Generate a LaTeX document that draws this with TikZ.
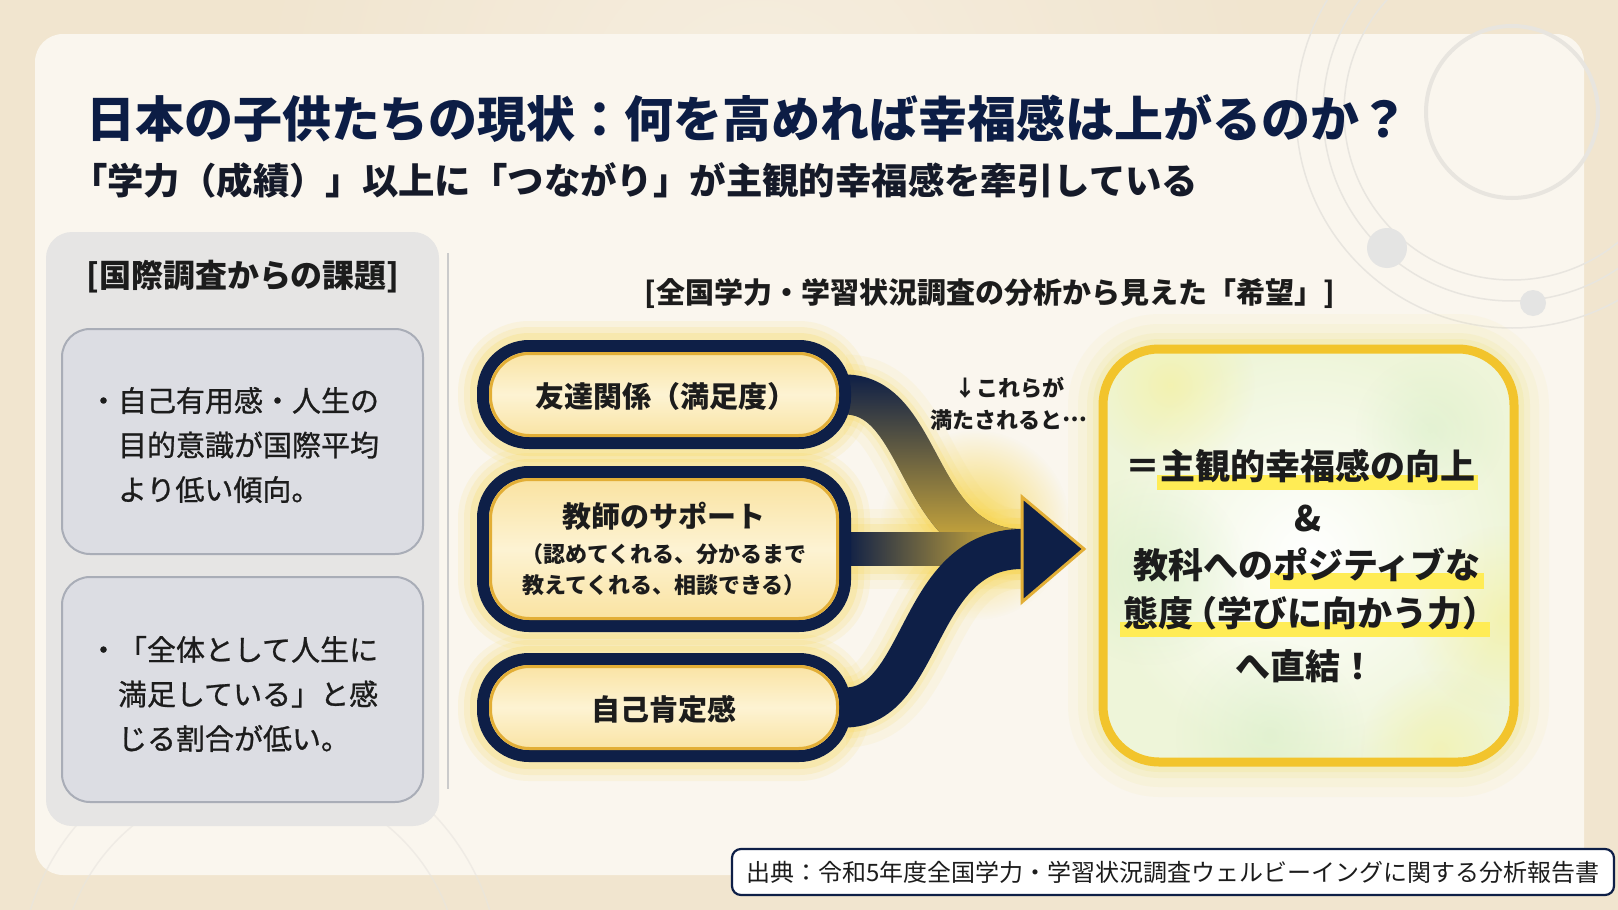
\documentclass[tikz,border=0pt]{standalone}
\usepackage{fontspec}
\setmainfont{Noto Sans CJK JP}
\newfontfamily\jpmid{Noto Sans CJK JP}[FakeBold=0.9]
\usetikzlibrary{fadings}
\pgfdeclarelayer{bg}
\pgfdeclarelayer{glow}
\pgfsetlayers{bg,glow,main}
\definecolor{navy}{HTML}{0E1F47}
\definecolor{titlec}{HTML}{0C1D45}
\definecolor{subc}{HTML}{151A29}
\definecolor{ink}{HTML}{1C1C1C}
\definecolor{bgout}{HTML}{F1E5CF}
\definecolor{panelc}{HTML}{FAF6EE}
\definecolor{ringc}{HTML}{E8E5DF}
\definecolor{dotc}{HTML}{E4E4E3}
\definecolor{lpanel}{HTML}{E6E5E4}
\definecolor{lboxc}{HTML}{DCDDE3}
\definecolor{lboxline}{HTML}{A9ADB7}
\definecolor{sepc}{HTML}{CBCBCB}
\definecolor{pillA}{HTML}{F9E19C}
\definecolor{pillB}{HTML}{FDF3D3}
\definecolor{pillgold}{HTML}{E2AE36}
\definecolor{glowc}{HTML}{F7D54A}
\definecolor{streamgold}{HTML}{E9BE3A}
\definecolor{boxgold}{HTML}{F2C42C}
\definecolor{hly}{HTML}{FFEC55}
\definecolor{greenglow}{HTML}{CDEBBE}
\definecolor{resout}{HTML}{EEF5D9}
\definecolor{rglow}{HTML}{EDE27A}
\tikzfading[name=fadedown, top color=transparent!100, middle color=transparent!75, bottom color=transparent!0]
\tikzfading[name=faderight, left color=transparent!100, middle color=transparent!65, right color=transparent!0]
\tikzfading[name=softblob, inner color=transparent!0, outer color=transparent!100]
\newsavebox\hlbox
\newcommand\hlmark[1]{\sbox\hlbox{#1}\rlap{\kern-3pt\textcolor{hly}{\rule[-0.3em]{\dimexpr\wd\hlbox+6pt\relax}{0.44em}}}\usebox\hlbox}
\newcommand\pillnode[5]{%
  \node[pill, minimum height=#4] (#1) at (#2,#3) {#5};
  \draw[pillin] ([shift={(7.5,7.5)}]#1.north west) rectangle ([shift={(-7.5,-7.5)}]#1.south east);}
\begin{document}
\begin{tikzpicture}[x=1pt,y=-1pt,
  every node/.style={inner sep=0pt, outer sep=0pt},
  pill/.style={draw=navy, line width=12pt, rounded corners=46pt, top color=pillA, bottom color=pillA, middle color=pillB, minimum width=362pt},
  pillin/.style={draw=pillgold, line width=3pt, rounded corners=39pt},
  ptext/.style={font=\fontsize{29}{35}\selectfont\bfseries, text=ink},
  psmall/.style={font=\fontsize{22}{28}\selectfont\bfseries, text=ink},
  lboxst/.style={fill=lboxc, draw=lboxline, line width=2pt, rounded corners=28pt, minimum width=361pt, minimum height=225pt},
  ltext/.style={anchor=west, align=left, font=\fontsize{29}{44.5}\selectfont\jpmid, text=ink},
  rtext/.style={font=\fontsize{35}{42}\selectfont\bfseries, text=ink},
  resbox/.style={rounded corners=56pt, inner color=white, outer color=resout, minimum width=411pt, minimum height=413pt},
]
\useasboundingbox (0,0) rectangle (1618,910);

% ---------- background ----------
\begin{pgfonlayer}{bg}
\fill[bgout] (0,0) rectangle (1618,910);
\fill[white, opacity=0.35, path fading=softblob] (760,120) circle (520);
\fill[panelc, rounded corners=28] (35,34) rectangle (1584,875);
\draw[ringc, line width=4] (1512,112) circle (86);
\draw[ringc, line width=1.5] (1512,112) circle (168);
\draw[ringc, line width=1.5] (1512,112) circle (189);
\draw[ringc, line width=1.5] (1512,112) circle (216);
\fill[dotc] (1387,248) circle (20);
\fill[dotc] (1533,303) circle (13);
\draw[ringc, line width=1.5, opacity=0.6] (260,980) circle (200);
\draw[ringc, line width=1.5, opacity=0.6] (260,980) circle (240);
\end{pgfonlayer}

% ---------- title ----------
\node[anchor=west, font=\fontsize{49}{56}\selectfont\bfseries, text=titlec] (title) at (86,119) {日本の子供たちの現状：何を高めれば幸福感は上がるのか？};
\node[anchor=west, font=\fontsize{36.4}{42}\selectfont\bfseries, text=subc] (sub) at (71,181) {「学力（成績）」以上に「つながり」が主観的幸福感を牽引している};

% ---------- left panel ----------
\node[fill=lpanel, rounded corners=26pt, minimum width=393pt, minimum height=594pt] (lp) at (242.5,529) {};
\node[font=\fontsize{32}{38}\selectfont\bfseries, text=ink] (lhead) at (243,277) {[国際調査からの課題]};
\node[lboxst] (b1) at (242.5,441.5) {};
\node[lboxst] (b2) at (242.5,689.5) {};
\node[ltext] (t1) at (89,445) {・自己有用感・人生の\\\phantom{・}目的意識が国際平均\\\phantom{・}より低い傾向。};
\node[ltext] (t2) at (89,694) {・「全体として人生に\\\phantom{・}満足している」と感\\\phantom{・}じる割合が低い。};
\draw[sepc, line width=2pt] (448,253) -- (448,789);

% ---------- right header ----------
\node[font=\fontsize{29}{34}\selectfont\bfseries, text=ink] (rhead) at (990,294) {[全国学力・学習状況調査の分析から見えた「希望」]};

% ---------- pills ----------
\pillnode{p1}{664}{394.5}{97pt}{}
\pillnode{p2}{664}{549}{154pt}{}
\pillnode{p3}{664}{707.5}{97pt}{}
\node[ptext] (p1t) at (666,396) {友達関係（満足度）};
\node[ptext] (p2a) at (664,516) {教師のサポート};
\node[psmall] (p2b) at (664,554) {（認めてくれる、分かるまで};
\node[psmall] (p2c) at (664,585) {教えてくれる、相談できる）};
\node[ptext] (p3t) at (664,709) {自己肯定感};

\node[align=center, font=\fontsize{22}{32}\selectfont\bfseries, text=ink] (note) at (1009,404) {↓これらが\\満たされると\raisebox{0.32em}{…}};

% ---------- result box ----------
\node[resbox] (res) at (1308.5,555.5) {};
\begin{scope}
\clip[rounded corners=56] (res.north west) rectangle (res.south east);
\fill[greenglow, path fading=softblob, opacity=0.45] (1150,570) circle (95);
\fill[greenglow, path fading=softblob, opacity=0.4] (1270,735) circle (95);
\fill[greenglow, path fading=softblob, opacity=0.35] (1430,430) circle (75);
\fill[hly, path fading=softblob, opacity=0.3] (1170,385) circle (85);
\fill[hly, path fading=softblob, opacity=0.3] (1505,620) circle (95);
\fill[hly, path fading=softblob, opacity=0.25] (1440,750) circle (80);
\end{scope}
\draw[boxgold, line width=9, rounded corners=56] (res.north west) rectangle (res.south east);
\node[rtext] (r1) at (1300,470) {＝\hlmark{主観的幸福感の向上}};
\node[rtext] (r2) at (1308,518) {\&};
\node[rtext] (r3) at (1307,568) {教科への\hlmark{ポジティブな}};
\node[rtext] (r4) at (1305,617) {\hlmark{態度\kern-.3em（学びに向かう力）\kern-.3em}};
\node[rtext] (r5) at (1305,666) {へ直結！};

% ---------- arrow ----------
\coordinate (m) at (1022,549);
\coordinate (tip) at (1084,549);
\coordinate (ah1) at (1022,497);
\coordinate (ah2) at (1022,602);

\begin{pgfonlayer}{glow}
\foreach \n in {p1,p2,p3}{
  \foreach \w/\o in {50/0.10,38/0.14,26/0.2}{
    \draw[glowc, line width=\w, opacity=\o, rounded corners=46] (\n.north west) rectangle (\n.south east);
  }}
\foreach \w/\o in {70/0.07,50/0.10,32/0.14,20/0.2}{
  \draw[rglow, line width=\w, opacity=\o, rounded corners=56] (res.north west) rectangle (res.south east);}
\fill[glowc, path fading=softblob, opacity=0.9] (975,525) circle (95);
\foreach \w/\o in {80/0.08,62/0.12,50/0.18}{
  \draw[glowc, line width=\w, opacity=\o] (p1.east) .. controls (925,394.5) and (915,549) .. (m);
  \draw[glowc, line width=\w, opacity=\o] (p2.east) -- (m);
  \draw[glowc, line width=\w, opacity=\o] (p3.east) .. controls (925,707.5) and (915,549) .. (m);}
\draw[navy, line width=40] ([xshift=-30pt]p1.east) -- (p1.east) .. controls (925,394.5) and (915,549) .. (m);
\draw[streamgold, line width=40, path fading=fadedown] (p1.east) .. controls (925,394.5) and (915,549) .. (m);
\fill[navy] ([shift={(-30,-17)}]p2.east) rectangle ([shift={(0,17)}]m);
\fill[streamgold, path fading=faderight] ([shift={(0,-17)}]p2.east) rectangle ([shift={(0,17)}]m);
\draw[navy, line width=40] ([xshift=-30pt]p3.east) -- (p3.east) .. controls (925,707.5) and (915,549) .. (m);
\end{pgfonlayer}
\fill[navy, draw=pillgold, line width=3pt, line join=miter] (ah1) -- (tip) -- (ah2) -- cycle;

% ---------- source ----------
\node[fill=white, draw=navy, line width=2.2pt, rounded corners=9pt, minimum width=882pt, minimum height=46pt] (srcbox) at (1173,872) {};
\node[font=\fontsize{24}{28}\selectfont, text=ink] (src) at (1173,872) {出典：令和5年度全国学力・学習状況調査ウェルビーイングに関する分析報告書};
\end{tikzpicture}
\end{document}
